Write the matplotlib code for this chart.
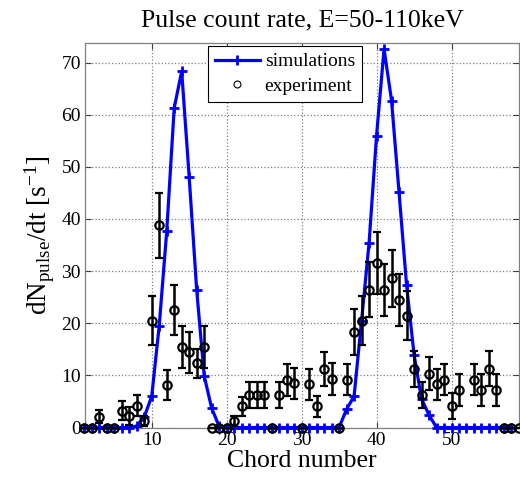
import matplotlib
matplotlib.use("Agg")
import matplotlib.pyplot as plt
from matplotlib.lines import Line2D
import numpy as np

# ---------- data ----------
SIM_CHORD = list(range(1, 59))
SIM_RATE = [0, 0, 0, 0, 0, 0, 0, 0.3, 2.0, 6.0,
            19.5, 37.6, 61.3, 68.3, 48.0, 26.4, 9.9, 3.7, 0.2, 0,
            0, 0, 0, 0, 0, 0, 0, 0, 0, 0,
            0, 0, 0, 0, 0, 3.5, 6.0, 20.5, 35.4, 56.0,
            72.6, 62.7, 45.1, 27.4, 14.0, 5.5, 2.4, 0, 0, 0,
            0, 0, 0, 0, 0, 0, 0, 0]

EXP_CHORD = [1, 2, 3, 4, 5, 6, 7, 8, 9, 10,
             11, 12, 13, 14, 15, 16, 17, 18, 19, 20,
             21, 22, 23, 24, 25, 26, 27, 28, 29, 30,
             31, 32, 33, 34, 35, 36, 37, 38, 39, 40,
             41, 42, 43, 44, 45, 46, 47, 48, 49, 50,
             51, 53, 54, 55, 56, 57, 58, 59]
EXP_RATE = [0, 0, 2.1, 0, 0, 3.2, 2.2, 4.2, 1.2, 20.5,
            38.8, 8.2, 22.5, 15.5, 14.4, 12.3, 15.5, 0, 0, 0,
            1.3, 4.1, 6.2, 6.2, 6.2, 0, 6.2, 9.1, 8.5, 0,
            8.3, 4.1, 11.2, 9.3, 0, 9.2, 18.4, 20.5, 26.4, 31.5,
            26.4, 28.6, 24.5, 21.4, 11.2, 6.2, 10.3, 8.3, 9.2, 4.2,
            7.2, 9.2, 7.2, 11.3, 7.2, 0, 0, 0]
EXP_ERR = [0, 0, 1.3, 0, 0, 1.8, 1.8, 2.0, 1.0, 4.7,
           6.2, 2.9, 4.8, 4.0, 3.9, 2.8, 4.0, 0, 0, 0,
           1.0, 1.8, 2.5, 2.5, 2.5, 0, 2.5, 3.0, 3.0, 0,
           3.0, 2.0, 3.3, 3.0, 0, 3.0, 4.4, 4.7, 5.3, 5.9,
           5.0, 5.4, 5.0, 4.7, 3.4, 2.5, 3.2, 3.0, 3.0, 2.5,
           3.0, 3.0, 3.0, 3.4, 3.0, 0, 0, 0]

X_TICKS = [10, 20, 30, 40, 50]
Y_TICKS = [0, 10, 20, 30, 40, 50, 60, 70]

TITLE = "Pulse count rate, E=50-110keV"

plt.rcParams["font.family"] = ["Liberation Serif", "DejaVu Serif"]
plt.rcParams["mathtext.fontset"] = "custom"
plt.rcParams["mathtext.rm"] = "Liberation Serif"
plt.rcParams["mathtext.it"] = "Liberation Serif:italic"


def main():
    fig = plt.figure(figsize=(5.2, 4.84), dpi=100)
    ax = fig.add_axes([0.1635, 0.1167, 0.8345, 0.7951])

    ax.plot(SIM_CHORD, SIM_RATE, color="#0000ff", lw=2.3, marker="+",
            ms=6.5, mew=2.0, clip_on=False, zorder=3)
    ax.errorbar(EXP_CHORD, EXP_RATE, yerr=EXP_ERR, fmt="o", color="black",
                mfc="none", ms=6, mew=1.6, elinewidth=1.8, capsize=3,
                capthick=1.6, clip_on=False, zorder=4)

    ax.set_xlim(1.1, 59)
    ax.set_ylim(0, 73.8)
    ax.set_xticks(X_TICKS)
    ax.set_yticks(Y_TICKS)
    ax.tick_params(direction="in", top=True, right=True, labelsize=14,
                   color="#404040", length=4)
    ax.tick_params(axis="x", pad=3)
    ax.tick_params(axis="y", pad=3)
    ax.grid(True, linestyle=":", color="#808080", lw=0.9)
    for s in ax.spines.values():
        s.set_color("#808080")
        s.set_linewidth(0.9)

    ax.set_xlabel("Chord number", fontsize=18.5, labelpad=1)
    ax.set_ylabel(r"dN$_{\rm pulse}$/dt [s$^{-1}$]", fontsize=19.5, labelpad=3)
    ax.set_title(TITLE, fontsize=18.5, pad=12)

    handles = [
        Line2D([], [], color="#0000ff", lw=2.3, marker="+", ms=6.5, mew=2.0),
        Line2D([], [], color="black", lw=0, marker="o", mfc="none", ms=5,
               mew=0.8),
    ]
    leg = ax.legend(handles, ["simulations", "experiment"], loc="upper center",
                    bbox_to_anchor=(0.548, 0.905),
                    bbox_transform=fig.transFigure, fontsize=14,
                    fancybox=False, framealpha=1, edgecolor="black",
                    handlelength=2.3, handletextpad=0.25, borderpad=0.35,
                    labelspacing=0.35, borderaxespad=0)
    leg.get_frame().set_linewidth(0.8)

    fig.savefig("out.png", dpi=100)
    plt.close(fig)


if __name__ == "__main__":
    main()
